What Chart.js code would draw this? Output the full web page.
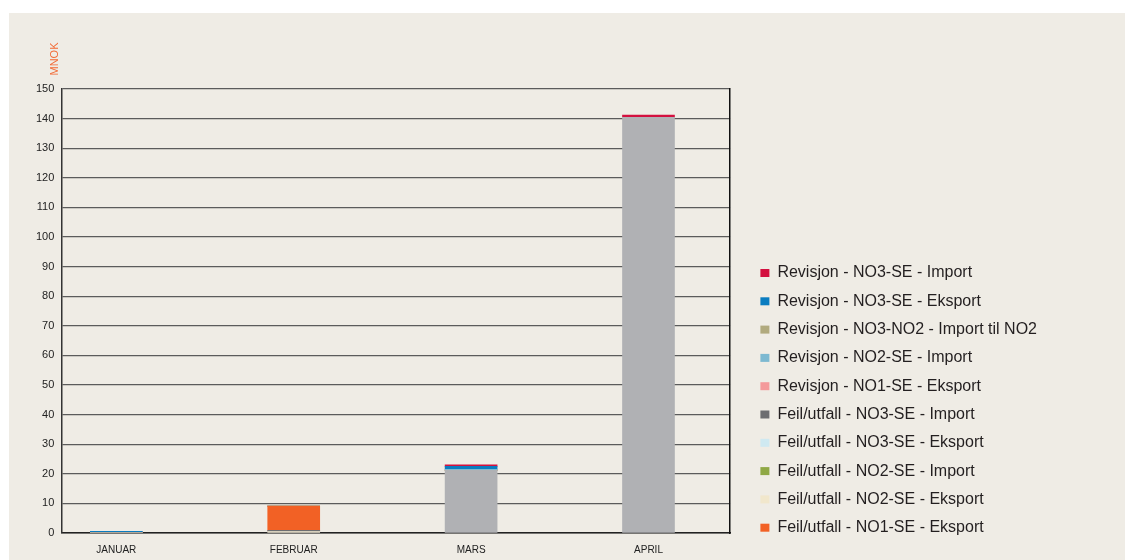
<!DOCTYPE html>
<html>
<head>
<meta charset="utf-8">
<script src="https://cdn.jsdelivr.net/npm/chart.js@4.4.1/dist/chart.umd.min.js"></script>
<style>
  html, body { margin: 0; padding: 0; background: #ffffff; }
</style>
</head>
<body>
<canvas id="chart" width="1125" height="560"></canvas>
<script>
// Months on the x axis
const months = ['JANUAR', 'FEBRUAR', 'MARS', 'APRIL'];
const yTicks = [0, 10, 20, 30, 40, 50, 60, 70, 80, 90, 100, 110, 120, 130, 140, 150];

// Series values (MNOK)
const ovrig = [0, 0, 21.2, 140.4];                   // grey block, not in legend
const feilNO2SEEksport = [0, 0.5, 0, 0];
const feilNO3SEImport = [0, 0.4, 0, 0];
const feilNO1SEEksport = [0, 8.2, 0, 0];
const feilNO2SEImport = [0, 0, 0, 0];
const feilNO3SEEksport = [0, 0, 0, 0];
const revNO1SEEksport = [0, 0, 0, 0];
const revNO2SEImport = [0.25, 0, 0.3, 0];
const revNO3NO2Import = [0, 0, 0, 0];
const revNO3SEEksport = [0.35, 0, 1.0, 0];
const revNO3SEImport = [0, 0, 0.5, 0.8];

// Legend order, top to bottom
const legendOrder = [
    'Revisjon - NO3-SE - Import',
    'Revisjon - NO3-SE - Eksport',
    'Revisjon - NO3-NO2 - Import til NO2',
    'Revisjon - NO2-SE - Import',
    'Revisjon - NO1-SE - Eksport',
    'Feil/utfall - NO3-SE - Import',
    'Feil/utfall - NO3-SE - Eksport',
    'Feil/utfall - NO2-SE - Import',
    'Feil/utfall - NO2-SE - Eksport',
    'Feil/utfall - NO1-SE - Eksport'
];

// stack order bottom -> top
const series = [
    { label: 'Øvrig', data: ovrig, color: '#b0b1b4' },
    { label: 'Feil/utfall - NO2-SE - Eksport', data: feilNO2SEEksport, color: '#f1e7cc' },
    { label: 'Feil/utfall - NO3-SE - Import', data: feilNO3SEImport, color: '#6d6e71' },
    { label: 'Feil/utfall - NO1-SE - Eksport', data: feilNO1SEEksport, color: '#f26125' },
    { label: 'Feil/utfall - NO2-SE - Import', data: feilNO2SEImport, color: '#8fa845' },
    { label: 'Feil/utfall - NO3-SE - Eksport', data: feilNO3SEEksport, color: '#cfe9f1' },
    { label: 'Revisjon - NO1-SE - Eksport', data: revNO1SEEksport, color: '#f49a9b' },
    { label: 'Revisjon - NO2-SE - Import', data: revNO2SEImport, color: '#7db9d1' },
    { label: 'Revisjon - NO3-NO2 - Import til NO2', data: revNO3NO2Import, color: '#b1aa7e' },
    { label: 'Revisjon - NO3-SE - Eksport', data: revNO3SEEksport, color: '#0a7cc0' },
    { label: 'Revisjon - NO3-SE - Import', data: revNO3SEImport, color: '#d3103f' }
];

// beige panel behind the chart + the MNOK unit label
const panelPlugin = {
    id: 'panel',
    afterLayout(chart) {
        // lift the legend column a bit
        chart.legend.top -= 8;
        chart.legend.bottom -= 8;
    },
    beforeDraw(chart) {
        const ctx = chart.ctx;
        ctx.save();
        ctx.fillStyle = '#efece5';
        ctx.fillRect(9, 13, 1116, 547);
        ctx.restore();
    },
    afterDraw(chart) {
        const ctx = chart.ctx;
        ctx.save();
        ctx.translate(55, 59);
        ctx.rotate(-Math.PI / 2);
        ctx.fillStyle = '#f26a35';
        ctx.font = '11px "Liberation Sans", Arial, sans-serif';
        ctx.textAlign = 'center';
        ctx.textBaseline = 'middle';
        ctx.fillText('MNOK', 0, 0);
        ctx.restore();
    }
};

const ctx = document.getElementById('chart').getContext('2d');
const chart = new Chart(ctx, {
    type: 'bar',
    data: {
        datasets: series.map(s => ({
            label: s.label,
            data: s.data.map((v, i) => ({ x: i, y: v })),
            backgroundColor: s.color,
            borderWidth: 0,
            barThickness: 52
        }))
    },
    options: {
        responsive: false,
        animation: false,
        layout: {
            padding: { left: 29, top: 89, right: 78, bottom: 4 }
        },
        plugins: {
            tooltip: { enabled: false },
            legend: {
                position: 'right',
                align: 'end',
                maxWidth: 340,
                labels: {
                    boxWidth: 9,
                    boxHeight: 8,
                    padding: 12.3,
                    color: '#231f20',
                    font: { family: '"Liberation Sans", Arial, sans-serif', size: 16 },
                    filter: item => legendOrder.includes(item.text),
                    sort: (a, b) => legendOrder.indexOf(a.text) - legendOrder.indexOf(b.text)
                }
            }
        },
        scales: {
            x: {
                type: 'linear',
                stacked: true,
                min: -0.31,
                max: 3.46,
                offset: false,
                grid: { display: false, drawTicks: false },
                border: { color: '#222', width: 1.5 },
                afterBuildTicks: scale => {
                    scale.ticks = months.map((m, i) => ({ value: i }));
                },
                afterFit: scale => { scale.height = 23; },
                ticks: {
                    padding: 11,
                    autoSkip: false,
                    maxRotation: 0,
                    color: '#222',
                    font: { family: '"Liberation Sans", Arial, sans-serif', size: 10 },
                    callback: v => months[v]
                }
            },
            y: {
                stacked: true,
                min: 0,
                max: 150,
                afterBuildTicks: scale => {
                    scale.ticks = yTicks.map(v => ({ value: v }));
                },
                grid: { color: '#5b5b5b', lineWidth: 1.2, drawTicks: false },
                border: { color: '#333', width: 1.5 },
                ticks: {
                    padding: 7,
                    color: '#222',
                    font: { family: '"Liberation Sans", Arial, sans-serif', size: 11 }
                }
            },
            y2: {
                type: 'linear',
                position: 'right',
                min: 0,
                max: 150,
                grid: { drawOnChartArea: false, drawTicks: false },
                border: { color: '#111', width: 1.5 },
                ticks: { display: false },
                afterFit: scale => { scale.width = 18; }
            }
        }
    },
    plugins: [panelPlugin]
});
</script>
</body>
</html>
